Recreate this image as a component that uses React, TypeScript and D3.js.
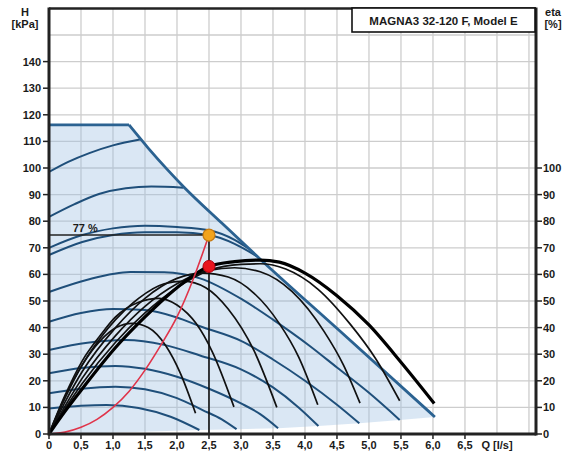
import React from "react";
import * as d3 from "d3";

type P = [number, number];

const xTicks = [0, 0.5, 1, 1.5, 2, 2.5, 3, 3.5, 4, 4.5, 5, 5.5, 6, 6.5];
const xTickLabels = ["0", "0,5", "1,0", "1,5", "2,0", "2,5", "3,0", "3,5", "4,0", "4,5", "5,0", "5,5", "6,0", "6,5"];
const xGrid = [0.5, 1, 1.5, 2, 2.5, 3, 3.5, 4, 4.5, 5, 5.5, 6, 6.5, 7, 7.5];
const hTicks = [0, 10, 20, 30, 40, 50, 60, 70, 80, 90, 100, 110, 120, 130, 140];
const hGrid = [10, 20, 30, 40, 50, 60, 70, 80, 90, 100, 110, 120, 130, 140, 150];
const etaTicks = [0, 10, 20, 30, 40, 50, 60, 70, 80, 90, 100];

const title = "MAGNA3 32-120 F, Model E";

// envelope (max curve) and min boundary
const envelopeFlat: P[] = [[0, 116.2], [1.25, 116.2]];
const envelopeDiag: P[] = [[1.25, 116.2], [1.55, 107.5], [1.85, 99.4], [2.11, 92.8], [2.7, 79.3], [3.28, 66.2], [4.55, 38.6], [6.03, 6.4]];
const minBoundary: P[] = [[0, 0], [0.8, 0.4], [1.6, 0.9], [2.35, 1.5], [2.93, 1.8], [3.58, 2.2], [4.21, 3.0], [4.85, 4.0], [5.48, 5.3], [6.03, 6.4]];

// speed curves (blue)
const blueA: P[] = [[0, 98.5], [0.3, 102.3], [0.63, 105.6], [1.0, 108.5], [1.44, 110.8]];
const blueB: P[] = [[0, 81.6], [0.4, 86.4], [0.78, 90.2], [1.2, 92.4], [1.6, 93], [2.1, 92.6]];
const blueC: P[] = [[0, 70], [0.52, 74.8], [1.0, 77.3], [1.5, 78.3], [2.0, 77.8], [2.5, 76.6], [2.9, 73], [3.12, 69.7]];
const blueD: P[] = [[0, 67.3], [0.52, 72.2], [1.0, 74.8], [1.5, 75.8], [2.0, 75.8], [2.5, 74.8], [2.9, 71.5], [3.25, 66.8]];
const blueE: P[] = [[0, 53.4], [0.6, 58], [1.27, 60.9], [1.8, 60.8], [2.36, 58.5], [3.03, 50.4], [3.5, 43], [4.08, 33], [4.5, 25], [5.0, 15.5], [5.48, 5.3]];
const blueF: P[] = [[0, 42.2], [0.5, 45.5], [1.0, 47], [1.5, 46.6], [2.0, 43.8], [2.36, 40.5], [3.0, 35], [3.5, 28], [4.0, 20], [4.5, 11], [4.85, 4.0]];
const blueG: P[] = [[0, 31.6], [0.6, 34.3], [1.2, 35.3], [1.8, 33.5], [2.36, 29.5], [3.0, 24.3], [3.5, 17.5], [3.9, 10], [4.21, 3.0]];
const blueH: P[] = [[0, 22.8], [0.5, 24.8], [1.04, 25.6], [1.5, 24.5], [2.0, 21.5], [2.5, 17], [3.0, 11.5], [3.3, 7.5], [3.58, 2.2]];
const blueI: P[] = [[0, 15.3], [0.5, 17], [1.04, 17.8], [1.5, 16.8], [2.0, 13.5], [2.4, 9], [2.7, 5.5], [2.93, 1.8]];
const blueJ: P[] = [[0, 9.6], [0.5, 10.6], [0.9, 10.9], [1.4, 9.8], [1.9, 6.5], [2.35, 1.5]];

// efficiency curves (black)
const eta1: P[] = [[0, 0], [0.25, 14], [0.52, 26], [0.8, 35], [1.05, 40], [1.3, 41.6], [1.55, 40], [1.83, 33], [2.05, 23], [2.29, 7.8]];
const eta2: P[] = [[0, 0], [0.25, 14.5], [0.52, 27.5], [0.8, 37], [1.04, 44], [1.4, 49.5], [1.72, 51], [2.0, 48.5], [2.3, 41.5], [2.55, 31], [2.89, 10.2]];
const eta3: P[] = [[0, 0], [0.25, 13.5], [0.52, 26], [0.8, 36], [1.04, 43], [1.4, 51], [1.8, 56.5], [2.1, 57.5], [2.45, 55], [2.8, 47], [3.2, 31.5], [3.56, 10]];
const eta4: P[] = [[0, 0], [0.25, 12], [0.52, 23.5], [1.04, 40], [1.5, 51], [2.0, 58.5], [2.4, 60.5], [2.8, 59], [3.2, 53], [3.6, 41.5], [3.9, 29], [4.2, 11]];
const eta5: P[] = [[0, 0], [0.25, 10.5], [0.52, 21], [1.04, 37], [1.5, 48], [2.0, 56.5], [2.5, 61.5], [2.9, 62.5], [3.3, 61], [3.8, 53.5], [4.3, 38.5], [4.6, 26], [4.86, 11.6]];
const eta6: P[] = [[0, 0], [0.25, 9.5], [0.52, 19], [1.04, 34.5], [1.5, 45.5], [2.0, 55], [2.5, 61.5], [3.0, 63.8], [3.3, 64], [3.7, 62], [4.2, 54.5], [4.7, 41.5], [5.1, 28.5], [5.48, 12.5]];
const etaMax: P[] = [[0, 0], [0.25, 8.5], [0.52, 17], [1.04, 32.5], [1.5, 44], [2.0, 55], [2.5, 63], [2.9, 64.8], [3.3, 65.4], [3.6, 64.6], [4.0, 60.5], [4.5, 52], [5.0, 41], [5.5, 27], [6.02, 11.5]];

// system curve (red)
const systemCurve: P[] = [[0, 0], [0.25, 0.7], [0.5, 2.5], [0.75, 5.5], [1.0, 10], [1.25, 16], [1.5, 24], [1.75, 33.5], [2.0, 44], [2.25, 58], [2.5, 74.8]];

const dutyQ = 2.5;
const dutyH = 74.8;
const dutyEta = 63;
const dutyLabel = "77 %";

const blueCurves = [blueA, blueB, blueC, blueD, blueE, blueF, blueG, blueH, blueI, blueJ];
const etaCurves = [eta1, eta2, eta3, eta4, eta5, eta6];

export default function App() {
  const W = 571, H = 453;
  const x = d3.scaleLinear().domain([0, 7.61]).range([49, 536]);
  const y = d3.scaleLinear().domain([0, 160]).range([434, 8.4]);

  const smooth = d3.line<P>().x(d => x(d[0])).y(d => y(d[1])).curve(d3.curveMonotoneX);
  const straight = d3.line<P>().x(d => x(d[0])).y(d => y(d[1]));

  const areaPts: P[] = [...envelopeFlat, ...envelopeDiag.slice(1), ...minBoundary.slice().reverse()];

  const font = "'Liberation Sans', Arial, sans-serif";
  const blue = "#1f4f7a";
  const txt = "#1a1a1a";

  return (
    <svg width={W} height={H} style={{ position: "absolute", left: 0, top: 0, background: "#fff" }} fontFamily={font}>
      {/* grid */}
      {xGrid.map(v => (
        <line key={"gx" + v} x1={x(v)} x2={x(v)} y1={y(160)} y2={y(0)} stroke="#cdcdcd" strokeWidth={1.3} />
      ))}
      {hGrid.map(v => (
        <line key={"gy" + v} x1={x(0)} x2={x(7.61)} y1={y(v)} y2={y(v)} stroke="#cdcdcd" strokeWidth={1.3} />
      ))}

      {/* shaded operating range */}
      <path d={straight(areaPts) + "Z"} fill="#9fc1e2" fillOpacity={0.38} stroke="none" />

      {/* speed curves */}
      {blueCurves.map((c, i) => (
        <path key={"b" + i} d={smooth(c) || ""} fill="none" stroke={blue} strokeWidth={2} />
      ))}

      {/* envelope */}
      <path d={straight(envelopeFlat) || ""} fill="none" stroke="#2b6291" strokeWidth={2.8} />
      <path d={smooth(envelopeDiag) || ""} fill="none" stroke="#2b6291" strokeWidth={2.8} />

      {/* efficiency curves */}
      {etaCurves.map((c, i) => (
        <path key={"e" + i} d={smooth(c) || ""} fill="none" stroke="#111" strokeWidth={1.7} />
      ))}
      <path d={smooth(etaMax) || ""} fill="none" stroke="#000" strokeWidth={3.2} />

      {/* system curve */}
      <path d={smooth(systemCurve) || ""} fill="none" stroke="#e0344a" strokeWidth={1.6} />

      {/* duty point lines */}
      <line x1={x(0)} x2={x(dutyQ)} y1={y(dutyH)} y2={y(dutyH)} stroke="#222" strokeWidth={1.6} />
      <line x1={x(dutyQ)} x2={x(dutyQ)} y1={y(dutyH)} y2={y(0)} stroke="#111" strokeWidth={1.6} />
      <text x={x(0.37)} y={y(dutyH) - 3} fontSize={11} fontWeight="bold" fill={txt}>{dutyLabel}</text>

      <circle cx={x(dutyQ)} cy={y(dutyEta)} r={6} fill="#e8141e" stroke="#b00010" strokeWidth={1} />
      <circle cx={x(dutyQ)} cy={y(dutyH)} r={6} fill="#f2a31c" stroke="#c67a12" strokeWidth={1.2} />

      {/* frame */}
      <line x1={x(0)} x2={x(7.61)} y1={y(160)} y2={y(160)} stroke="#222" strokeWidth={2.5} />
      <line x1={x(0)} x2={x(7.61)} y1={y(0)} y2={y(0)} stroke="#222" strokeWidth={3} />
      <line x1={x(0)} x2={x(0)} y1={y(160) - 1} y2={y(0) + 1.5} stroke="#222" strokeWidth={3} />
      <line x1={x(7.61)} x2={x(7.61)} y1={y(160) - 1} y2={y(0) + 1.5} stroke="#222" strokeWidth={3} />

      {/* left axis */}
      {hTicks.map(v => (
        <g key={"lt" + v}>
          <line x1={x(0) - 6} x2={x(0)} y1={y(v)} y2={y(v)} stroke="#222" strokeWidth={1.5} />
          <text x={x(0) - 8} y={y(v) + 4} fontSize={11} fontWeight="bold" textAnchor="end" fill={txt}>{v}</text>
        </g>
      ))}
      <text x={25} y={16} fontSize={11} fontWeight="bold" textAnchor="middle" fill={txt}>H</text>
      <text x={25} y={28} fontSize={11} fontWeight="bold" textAnchor="middle" fill={txt}>[kPa]</text>

      {/* right axis */}
      {etaTicks.map(v => (
        <g key={"rt" + v}>
          <line x1={x(7.61)} x2={x(7.61) + 6} y1={y(v)} y2={y(v)} stroke="#222" strokeWidth={1.5} />
          <text x={x(7.61) + 7} y={y(v) + 4} fontSize={11} fontWeight="bold" textAnchor="start" fill={txt}>{v}</text>
        </g>
      ))}
      <text x={553} y={16} fontSize={11} fontWeight="bold" textAnchor="middle" fill={txt}>eta</text>
      <text x={553} y={28} fontSize={11} fontWeight="bold" textAnchor="middle" fill={txt}>[%]</text>

      {/* bottom axis */}
      {xTicks.map((v, i) => (
        <g key={"bt" + v}>
          <line x1={x(v)} x2={x(v)} y1={y(0)} y2={y(0) + 5} stroke="#222" strokeWidth={1.5} />
          <text x={x(v)} y={449} fontSize={11} fontWeight="bold" textAnchor="middle" fill={txt}>{xTickLabels[i]}</text>
        </g>
      ))}
      <text x={x(7.0)} y={449} fontSize={11} fontWeight="bold" textAnchor="middle" fill={txt}>Q [l/s]</text>

      {/* title box */}
      <rect x={352} y={8} width={183} height={24} fill="#fff" stroke="#111" strokeWidth={1.6} />
      <text x={443.5} y={24.5} fontSize={11.5} fontWeight="bold" textAnchor="middle" fill={txt}>{title}</text>
    </svg>
  );
}
